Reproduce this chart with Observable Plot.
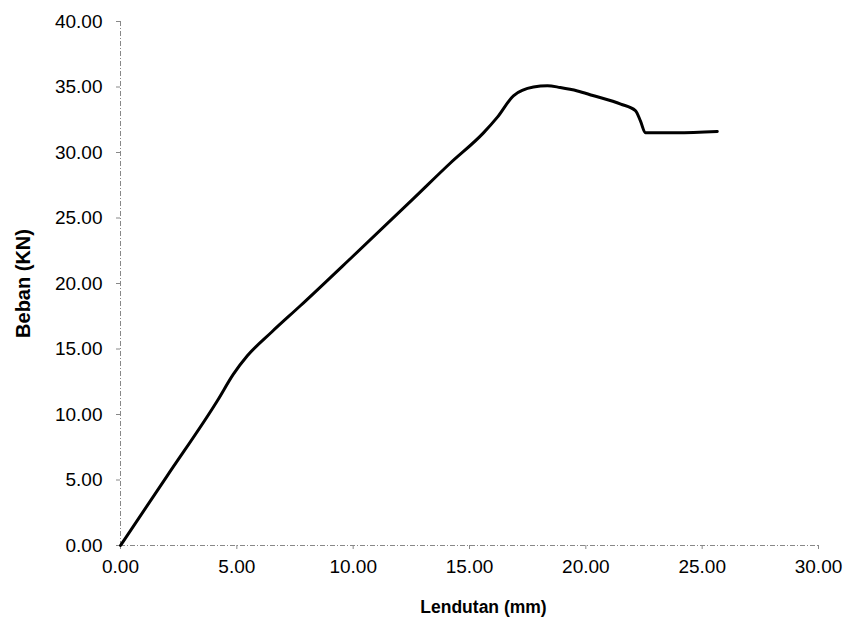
<!DOCTYPE html>
<html>
<head>
<meta charset="utf-8">
<script src="https://cdn.jsdelivr.net/npm/d3@7"></script>
<script src="https://cdn.jsdelivr.net/npm/@observablehq/plot@0.6"></script>
<style>
  html, body { margin: 0; padding: 0; background: #fff; }
  svg { font-family: "Liberation Sans", Arial, sans-serif; }
</style>
</head>
<body>
<div id="chart"></div>
<script>
const lendutan = [0, 2.0, 4.17, 4.86, 5.46, 6.5, 7.73, 10.0, 12.6, 14.18, 15.6, 16.2, 16.9, 17.75, 18.35, 18.9, 19.64, 20.3, 21.5, 22.13, 22.35, 22.56, 23.9, 25.65];
const beban    = [0, 5.3, 11.07, 13.1, 14.5, 16.3, 18.3, 22.1, 26.5, 29.2, 31.5, 32.7, 34.35, 35.0, 35.1, 34.96, 34.7, 34.35, 33.7, 33.2, 32.4, 31.5, 31.5, 31.6];
const xTicks = [0, 5, 10, 15, 20, 25, 30];
const yTicks = [0, 5, 10, 15, 20, 25, 30, 35, 40];
const xTitle = "Lendutan (mm)";
const yTitle = "Beban (KN)";

const data = lendutan.map((x, i) => ({x, y: beban[i]}));
const fmt = d => d.toFixed(2);

const chart = Plot.plot({
  width: 844,
  height: 626,
  marginLeft: 120,
  marginRight: 26,
  marginTop: 21,
  marginBottom: 81,
  style: {fontFamily: "Liberation Sans, Arial, sans-serif", background: "#fff", color: "#000"},
  x: {domain: [0, 30]},
  y: {domain: [0, 40]},
  marks: [
    Plot.ruleY([0], {stroke: "#888", strokeDasharray: "5,2,1,2", strokeWidth: 1}),
    Plot.ruleX([0], {stroke: "#888", strokeDasharray: "5,2,1,2", strokeWidth: 1}),
    Plot.axisX({ticks: xTicks, tickFormat: fmt, tickSize: 4, tickPadding: 10, fontSize: 19, stroke: "#888", label: null}),
    Plot.axisY({ticks: yTicks, tickFormat: fmt, tickSize: 4, tickPadding: 14, fontSize: 19, stroke: "#888", label: null}),
    Plot.line(data, {x: "x", y: "y", stroke: "#000", strokeWidth: 3, curve: "monotone-x"}),
    Plot.text([xTitle], {frameAnchor: "bottom", dx: 14, dy: 67, fontSize: 17.5, fontWeight: "bold", fill: "#000"}),
    Plot.text([yTitle], {frameAnchor: "left", textAnchor: "middle", dx: -97, rotate: -90, fontSize: 20, fontWeight: "bold", fill: "#000"})
  ]
});
document.getElementById("chart").appendChild(chart);
</script>
</body>
</html>
